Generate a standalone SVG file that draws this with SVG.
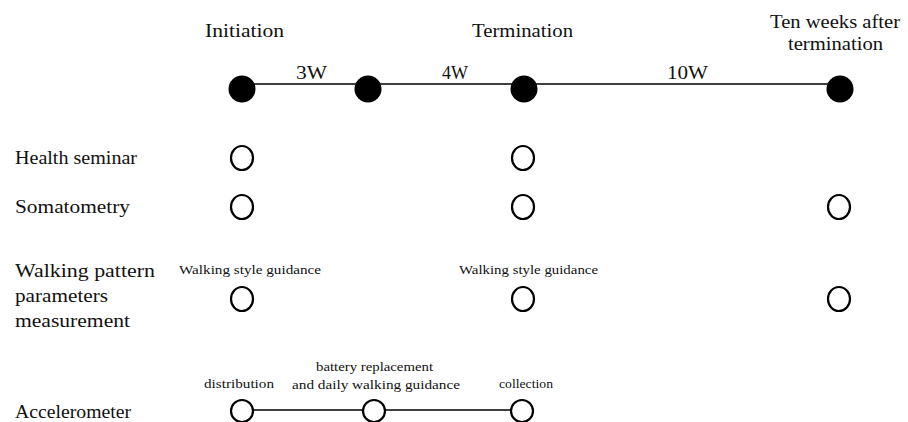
<svg xmlns="http://www.w3.org/2000/svg" width="908" height="422" viewBox="0 0 908 422">
<style>
text{font-family:"Liberation Serif","DejaVu Serif",serif;fill:#111;}
.big{font-size:19px;}
.lab{font-size:19px;}
.sm{font-size:12px;}
.md{font-size:13.5px;}
.dot{fill:#000;}
.oc{fill:none;stroke:#000;stroke-width:2.2;}
.ln{stroke:#000;stroke-width:1.5;fill:none;}
</style>
<rect width="908" height="422" fill="#fff"/>
<g id="connectors">
<line class="ln" x1="242" y1="84" x2="840" y2="84"/>
<line class="ln" x1="254" y1="410" x2="362" y2="410" stroke-width="1.2"/>
<line class="ln" x1="386" y1="410" x2="511" y2="410"/>
</g>
<g id="headers" font-family="Liberation Serif, serif">
<text class="big" x="205" y="37" textLength="79" lengthAdjust="spacingAndGlyphs">Initiation</text>
<text class="big" x="472" y="37" textLength="101" lengthAdjust="spacingAndGlyphs">Termination</text>
<text class="big" x="770" y="28" textLength="130" lengthAdjust="spacingAndGlyphs">Ten weeks after</text>
<text class="big" x="788" y="50" textLength="95" lengthAdjust="spacingAndGlyphs">termination</text>
<text class="big" x="296" y="79" textLength="31" lengthAdjust="spacingAndGlyphs">3W</text>
<text class="big" x="442" y="79" textLength="26" lengthAdjust="spacingAndGlyphs">4W</text>
<text class="big" x="667" y="79" textLength="41" lengthAdjust="spacingAndGlyphs">10W</text>
</g>
<g id="timeline-nodes">
<circle class="dot" cx="242" cy="89" r="13.5"/>
<circle class="dot" cx="368" cy="89" r="13.5"/>
<circle class="dot" cx="524" cy="89" r="13.5"/>
<circle class="dot" cx="840" cy="89" r="13.5"/>
</g>
<g id="health-seminar">
<text class="lab" x="15" y="164" textLength="122" lengthAdjust="spacingAndGlyphs">Health seminar</text>
<ellipse class="oc" cx="242" cy="158" rx="11" ry="12"/>
<ellipse class="oc" cx="523" cy="158" rx="11" ry="12"/>
</g>
<g id="somatometry">
<text class="lab" x="15" y="213" textLength="115" lengthAdjust="spacingAndGlyphs">Somatometry</text>
<ellipse class="oc" cx="242" cy="207" rx="11" ry="12"/>
<ellipse class="oc" cx="523" cy="207" rx="11" ry="12"/>
<ellipse class="oc" cx="839" cy="207" rx="11" ry="12"/>
</g>
<g id="walking-pattern">
<text class="lab" x="15" y="277" textLength="140" lengthAdjust="spacingAndGlyphs">Walking pattern</text>
<text class="lab" x="15" y="302" textLength="93" lengthAdjust="spacingAndGlyphs">parameters</text>
<text class="lab" x="15" y="327" textLength="115" lengthAdjust="spacingAndGlyphs">measurement</text>
<text class="sm" x="179" y="274" textLength="142" lengthAdjust="spacingAndGlyphs">Walking style guidance</text>
<text class="sm" x="459" y="274" textLength="139" lengthAdjust="spacingAndGlyphs">Walking style guidance</text>
<ellipse class="oc" cx="242" cy="299" rx="11" ry="12"/>
<ellipse class="oc" cx="523" cy="299" rx="11" ry="12"/>
<ellipse class="oc" cx="839" cy="299" rx="11" ry="12"/>
</g>
<g id="accelerometer">
<text class="lab" x="15" y="418" textLength="116" lengthAdjust="spacingAndGlyphs">Accelerometer</text>
<text class="md" x="204" y="388" textLength="70" lengthAdjust="spacingAndGlyphs">distribution</text>
<text class="md" x="316" y="371" textLength="117" lengthAdjust="spacingAndGlyphs">battery replacement</text>
<text class="md" x="292" y="389" textLength="168" lengthAdjust="spacingAndGlyphs">and daily walking guidance</text>
<text class="md" x="499" y="388" textLength="54" lengthAdjust="spacingAndGlyphs">collection</text>
<ellipse class="oc" cx="242" cy="411" rx="11" ry="11"/>
<ellipse class="oc" cx="374" cy="411" rx="11" ry="11"/>
<ellipse class="oc" cx="522" cy="411" rx="11" ry="11"/>
</g>
</svg>
